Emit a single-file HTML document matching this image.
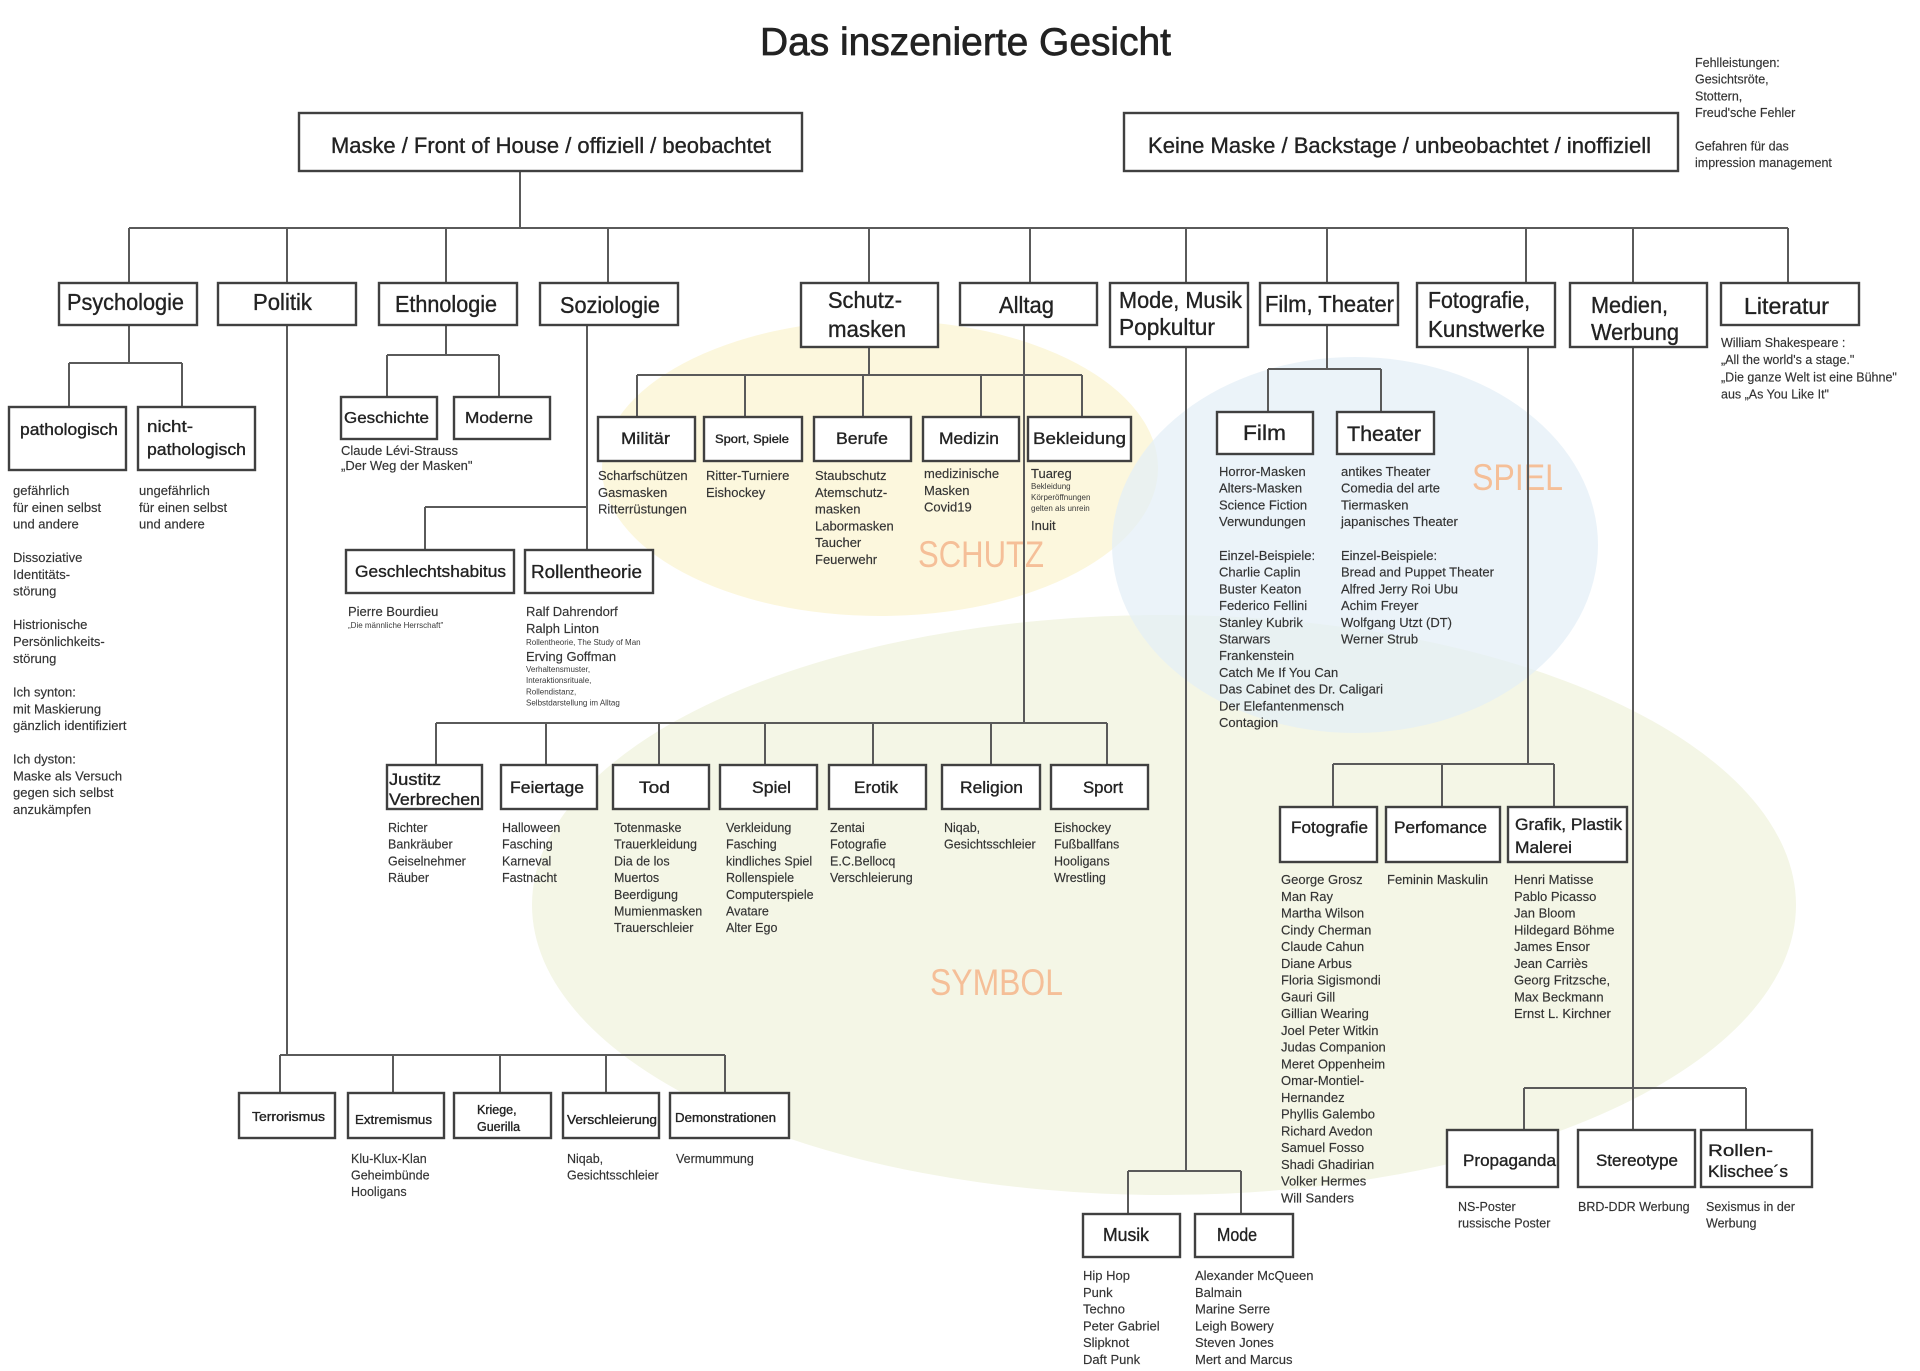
<!DOCTYPE html>
<html><head><meta charset="utf-8">
<style>
html,body{margin:0;padding:0;background:#fff;}
svg{display:block;}
text{font-family:"Liberation Sans",sans-serif;fill:#222;}
.lab text{stroke:#222;stroke-width:0.35;}
.n{font-size:13px;fill:#333;stroke:#333;stroke-width:0.15;}
.s{font-size:12.5px;fill:#333;stroke:#333;stroke-width:0.15;}
.t{font-size:8px;fill:#3a3a3a;}
.b{fill:#fff;stroke:#404040;stroke-width:2.4;}
.l{stroke:#5a5a5a;stroke-width:2;fill:none;}
.big{font-size:37px;fill:#f5bf98;}
</style></head>
<body>
<svg width="1920" height="1371" viewBox="0 0 1920 1371" xmlns="http://www.w3.org/2000/svg">
<rect width="1920" height="1371" fill="#fff"/>
<!-- background ellipses -->
<ellipse cx="1164" cy="905" rx="632" ry="290" fill="#f4f6e6"/>
<ellipse cx="880" cy="468" rx="278" ry="148" fill="#fcf7dd"/>
<ellipse cx="1355" cy="545" rx="243" ry="188" fill="#e3eff6" fill-opacity="0.72"/>

<text class="big" x="918" y="567" textLength="126" lengthAdjust="spacingAndGlyphs">SCHUTZ</text>
<text class="big" x="1472" y="490" textLength="91" lengthAdjust="spacingAndGlyphs">SPIEL</text>
<text class="big" x="930" y="995" textLength="133" lengthAdjust="spacingAndGlyphs">SYMBOL</text>

<!-- title -->
<text x="760" y="55" font-size="39" textLength="411" lengthAdjust="spacingAndGlyphs" stroke="#222" stroke-width="0.7">Das inszenierte Gesicht</text>

<!-- connectors -->
<g class="l">
<path d="M520 171V228M129 228H1788"/>
<path d="M129 228V283M287 228V283M446 228V283M608 228V283M869 228V283M1030 228V283M1186 228V283M1327 228V283M1526 228V283M1633 228V283M1788 228V283"/>
<path d="M129 325V363M69 363H182M69 363V407M182 363V407"/>
<path d="M446 325V355M387 355H499M387 355V397M499 355V397"/>
<path d="M587 325V550M425 507H587M425 507V550"/>
<path d="M869 347V375M637 375H1082M637 375V417M745 375V417M863 375V417M981 375V417M1082 375V417"/>
<path d="M1024 325V723M436 723H1107M436 723V765M546 723V765M659 723V765M765 723V765M873 723V765M991 723V765M1107 723V765"/>
<path d="M1327 325V369M1268 369H1381M1268 369V412M1381 369V412"/>
<path d="M1528 347V764M1333 764H1554M1333 764V807M1442 764V807M1554 764V807"/>
<path d="M1633 347V1088M1524 1088H1746M1524 1088V1130M1633 1088V1130M1746 1088V1130"/>
<path d="M1186 347V1171M1128 1171H1241M1128 1171V1214M1241 1171V1214"/>
<path d="M287 325V1055M280 1055H725M280 1055V1093M393 1055V1093M500 1055V1093M606 1055V1093M725 1055V1093"/>
</g>

<!-- boxes -->
<g>
<rect class="b" x="299" y="113" width="503" height="58"/>
<rect class="b" x="1124" y="113" width="554" height="58"/>

<rect class="b" x="59" y="283" width="138" height="42"/>
<rect class="b" x="218" y="283" width="138" height="42"/>
<rect class="b" x="379" y="283" width="138" height="42"/>
<rect class="b" x="540" y="283" width="138" height="42"/>
<rect class="b" x="801" y="283" width="137" height="64"/>
<rect class="b" x="960" y="283" width="137" height="42"/>
<rect class="b" x="1110" y="283" width="138" height="64"/>
<rect class="b" x="1260" y="283" width="138" height="42"/>
<rect class="b" x="1417" y="283" width="138" height="64"/>
<rect class="b" x="1570" y="283" width="137" height="64"/>
<rect class="b" x="1721" y="283" width="138" height="42"/>

<rect class="b" x="9" y="407" width="117" height="63"/>
<rect class="b" x="138" y="407" width="117" height="63"/>

<rect class="b" x="341" y="397" width="96" height="42"/>
<rect class="b" x="454" y="397" width="96" height="42"/>

<rect class="b" x="346" y="550" width="168" height="43"/>
<rect class="b" x="525" y="550" width="128" height="43"/>

<rect class="b" x="598" y="417" width="97" height="44"/>
<rect class="b" x="704" y="417" width="98" height="44"/>
<rect class="b" x="814" y="417" width="97" height="44"/>
<rect class="b" x="923" y="417" width="96" height="44"/>
<rect class="b" x="1028" y="417" width="103" height="44"/>

<rect class="b" x="1217" y="412" width="96" height="42"/>
<rect class="b" x="1337" y="412" width="97" height="42"/>

<rect class="b" x="387" y="765" width="95" height="44"/>
<rect class="b" x="501" y="765" width="96" height="44"/>
<rect class="b" x="613" y="765" width="96" height="44"/>
<rect class="b" x="720" y="765" width="97" height="44"/>
<rect class="b" x="829" y="765" width="97" height="44"/>
<rect class="b" x="942" y="765" width="98" height="44"/>
<rect class="b" x="1051" y="765" width="97" height="44"/>

<rect class="b" x="1280" y="807" width="97" height="55"/>
<rect class="b" x="1386" y="807" width="114" height="55"/>
<rect class="b" x="1508" y="807" width="119" height="55"/>

<rect class="b" x="1447" y="1130" width="111" height="57"/>
<rect class="b" x="1578" y="1130" width="117" height="57"/>
<rect class="b" x="1701" y="1130" width="111" height="57"/>

<rect class="b" x="1083" y="1214" width="97" height="43"/>
<rect class="b" x="1195" y="1214" width="98" height="43"/>

<rect class="b" x="239" y="1093" width="96" height="45"/>
<rect class="b" x="348" y="1093" width="96" height="45"/>
<rect class="b" x="454" y="1093" width="97" height="45"/>
<rect class="b" x="563" y="1093" width="96" height="45"/>
<rect class="b" x="670" y="1093" width="119" height="45"/>
</g>

<!-- box labels -->
<g class="lab">
<text x="331" y="153" font-size="22" textLength="440" lengthAdjust="spacingAndGlyphs">Maske / Front of House / offiziell / beobachtet</text>
<text x="1148" y="153" font-size="22" textLength="503" lengthAdjust="spacingAndGlyphs">Keine Maske / Backstage / unbeobachtet / inoffiziell</text>

<text x="67" y="310" font-size="23" textLength="117" lengthAdjust="spacingAndGlyphs">Psychologie</text>
<text x="253" y="310" font-size="23" textLength="59" lengthAdjust="spacingAndGlyphs">Politik</text>
<text x="395" y="312" font-size="23" textLength="102" lengthAdjust="spacingAndGlyphs">Ethnologie</text>
<text x="560" y="313" font-size="23" textLength="100" lengthAdjust="spacingAndGlyphs">Soziologie</text>
<text x="828" y="308" font-size="23" textLength="74" lengthAdjust="spacingAndGlyphs">Schutz-</text>
<text x="828" y="337" font-size="23" textLength="78" lengthAdjust="spacingAndGlyphs">masken</text>
<text x="999" y="313" font-size="23" textLength="55" lengthAdjust="spacingAndGlyphs">Alltag</text>
<text x="1119" y="308" font-size="23" textLength="123" lengthAdjust="spacingAndGlyphs">Mode, Musik</text>
<text x="1119" y="335" font-size="23" textLength="96" lengthAdjust="spacingAndGlyphs">Popkultur</text>
<text x="1265" y="312" font-size="23" textLength="129" lengthAdjust="spacingAndGlyphs">Film, Theater</text>
<text x="1428" y="308" font-size="23" textLength="102" lengthAdjust="spacingAndGlyphs">Fotografie,</text>
<text x="1428" y="337" font-size="23" textLength="117" lengthAdjust="spacingAndGlyphs">Kunstwerke</text>
<text x="1591" y="313" font-size="23" textLength="77" lengthAdjust="spacingAndGlyphs">Medien,</text>
<text x="1591" y="340" font-size="23" textLength="88" lengthAdjust="spacingAndGlyphs">Werbung</text>
<text x="1744" y="314" font-size="23" textLength="85" lengthAdjust="spacingAndGlyphs">Literatur</text>

<text x="20" y="435" font-size="17" textLength="98" lengthAdjust="spacingAndGlyphs">pathologisch</text>
<text x="147" y="432" font-size="17" textLength="46" lengthAdjust="spacingAndGlyphs">nicht-</text>
<text x="147" y="455" font-size="17" textLength="99" lengthAdjust="spacingAndGlyphs">pathologisch</text>

<text x="344" y="423" font-size="16" textLength="85" lengthAdjust="spacingAndGlyphs">Geschichte</text>
<text x="465" y="423" font-size="16" textLength="68" lengthAdjust="spacingAndGlyphs">Moderne</text>

<text x="621" y="444" font-size="17" textLength="49" lengthAdjust="spacingAndGlyphs">Militär</text>
<text x="715" y="443" font-size="12" textLength="74" lengthAdjust="spacingAndGlyphs">Sport, Spiele</text>
<text x="836" y="444" font-size="17" textLength="52" lengthAdjust="spacingAndGlyphs">Berufe</text>
<text x="939" y="444" font-size="17" textLength="60" lengthAdjust="spacingAndGlyphs">Medizin</text>
<text x="1033" y="444" font-size="17" textLength="93" lengthAdjust="spacingAndGlyphs">Bekleidung</text>

<text x="355" y="577" font-size="17" textLength="151" lengthAdjust="spacingAndGlyphs">Geschlechtshabitus</text>
<text x="531" y="578" font-size="18" textLength="111" lengthAdjust="spacingAndGlyphs">Rollentheorie</text>

<text x="1243" y="440" font-size="21" textLength="43" lengthAdjust="spacingAndGlyphs">Film</text>
<text x="1347" y="441" font-size="21" textLength="74" lengthAdjust="spacingAndGlyphs">Theater</text>

<text x="389" y="785" font-size="17" textLength="52" lengthAdjust="spacingAndGlyphs">Justitz</text>
<text x="389" y="805" font-size="17" textLength="91" lengthAdjust="spacingAndGlyphs">Verbrechen</text>
<text x="510" y="793" font-size="17" textLength="74" lengthAdjust="spacingAndGlyphs">Feiertage</text>
<text x="639" y="793" font-size="17" textLength="31" lengthAdjust="spacingAndGlyphs">Tod</text>
<text x="752" y="793" font-size="17" textLength="39" lengthAdjust="spacingAndGlyphs">Spiel</text>
<text x="854" y="793" font-size="17" textLength="44" lengthAdjust="spacingAndGlyphs">Erotik</text>
<text x="960" y="793" font-size="17" textLength="63" lengthAdjust="spacingAndGlyphs">Religion</text>
<text x="1083" y="793" font-size="17" textLength="40" lengthAdjust="spacingAndGlyphs">Sport</text>

<text x="1291" y="833" font-size="17" textLength="77" lengthAdjust="spacingAndGlyphs">Fotografie</text>
<text x="1394" y="833" font-size="17" textLength="93" lengthAdjust="spacingAndGlyphs">Perfomance</text>
<text x="1515" y="830" font-size="17" textLength="107" lengthAdjust="spacingAndGlyphs">Grafik, Plastik</text>
<text x="1515" y="853" font-size="17" textLength="57" lengthAdjust="spacingAndGlyphs">Malerei</text>

<text x="1463" y="1166" font-size="17" textLength="93" lengthAdjust="spacingAndGlyphs">Propaganda</text>
<text x="1596" y="1166" font-size="17" textLength="82" lengthAdjust="spacingAndGlyphs">Stereotype</text>
<text x="1708" y="1156" font-size="17" textLength="65" lengthAdjust="spacingAndGlyphs">Rollen-</text>
<text x="1708" y="1177" font-size="17" textLength="80" lengthAdjust="spacingAndGlyphs">Klischee´s</text>

<text x="1103" y="1241" font-size="18" textLength="46" lengthAdjust="spacingAndGlyphs">Musik</text>
<text x="1217" y="1241" font-size="18" textLength="40" lengthAdjust="spacingAndGlyphs">Mode</text>

<text x="252" y="1121" font-size="12.5" textLength="73" lengthAdjust="spacingAndGlyphs" stroke-width="0.2">Terrorismus</text>
<text x="355" y="1124" font-size="12.5" textLength="77" lengthAdjust="spacingAndGlyphs" stroke-width="0.2">Extremismus</text>
<text x="477" y="1114" font-size="12.5" stroke-width="0.2">Kriege,</text>
<text x="477" y="1131" font-size="12.5" stroke-width="0.2">Guerilla</text>
<text x="567" y="1124" font-size="12.5" textLength="90" lengthAdjust="spacingAndGlyphs" stroke-width="0.2">Verschleierung</text>
<text x="675" y="1122" font-size="12.5" textLength="101" lengthAdjust="spacingAndGlyphs" stroke-width="0.2">Demonstrationen</text>
</g>

<!-- notes -->
<text class="s" x="1695" y="67">Fehlleistungen:<tspan x="1695" dy="16.7">Gesichtsröte,</tspan><tspan x="1695" dy="16.7">Stottern,</tspan><tspan x="1695" dy="16.7">Freud'sche Fehler</tspan><tspan x="1695" dy="33.4">Gefahren für das</tspan><tspan x="1695" dy="16.7">impression management</tspan></text>

<text class="s" x="1721" y="347" font-size="12">William Shakespeare :<tspan x="1721" dy="17.2">„All the world's a stage."</tspan><tspan x="1721" dy="17.2">„Die ganze Welt ist eine Bühne"</tspan><tspan x="1721" dy="17.2">aus „As You Like It"</tspan></text>

<text class="n" x="13" y="495">gefährlich<tspan x="13" dy="16.8">für einen selbst</tspan><tspan x="13" dy="16.8">und andere</tspan><tspan x="13" dy="33.5">Dissoziative</tspan><tspan x="13" dy="16.8">Identitäts-</tspan><tspan x="13" dy="16.8">störung</tspan><tspan x="13" dy="33.5">Histrionische</tspan><tspan x="13" dy="16.8">Persönlichkeits-</tspan><tspan x="13" dy="16.8">störung</tspan><tspan x="13" dy="33.7">Ich synton:</tspan><tspan x="13" dy="16.8">mit Maskierung</tspan><tspan x="13" dy="16.8">gänzlich identifiziert</tspan><tspan x="13" dy="33.5">Ich dyston:</tspan><tspan x="13" dy="16.8">Maske als Versuch</tspan><tspan x="13" dy="16.8">gegen sich selbst</tspan><tspan x="13" dy="16.8">anzukämpfen</tspan></text>
<text class="n" x="139" y="495">ungefährlich<tspan x="139" dy="16.8">für einen selbst</tspan><tspan x="139" dy="16.8">und andere</tspan></text>

<text class="n" x="341" y="455" font-size="10.5">Claude Lévi-Strauss<tspan x="341" dy="15">„Der Weg der Masken"</tspan></text>

<text class="n" x="348" y="616">Pierre Bourdieu</text>
<text class="t" x="348" y="628">„Die männliche Herrschaft"</text>
<text class="n" x="526" y="616">Ralf Dahrendorf</text>
<text class="n" x="526" y="633">Ralph Linton</text>
<text class="t" x="526" y="645">Rollentheorie, The Study of Man</text>
<text class="n" x="526" y="661">Erving Goffman</text>
<text class="t" x="526" y="672">Verhaltensmuster,<tspan x="526" dy="11.2">Interaktionsrituale,</tspan><tspan x="526" dy="11.2">Rollendistanz,</tspan><tspan x="526" dy="11.2">Selbstdarstellung im Alltag</tspan></text>

<text class="n" x="598" y="480">Scharfschützen<tspan x="598" dy="16.8">Gasmasken</tspan><tspan x="598" dy="16.8">Ritterrüstungen</tspan></text>
<text class="n" x="706" y="480">Ritter-Turniere<tspan x="706" dy="16.8">Eishockey</tspan></text>
<text class="n" x="815" y="480">Staubschutz<tspan x="815" dy="16.8">Atemschutz-</tspan><tspan x="815" dy="16.8">masken</tspan><tspan x="815" dy="16.8">Labormasken</tspan><tspan x="815" dy="16.8">Taucher</tspan><tspan x="815" dy="16.8">Feuerwehr</tspan></text>
<text class="n" x="924" y="478">medizinische<tspan x="924" dy="16.8">Masken</tspan><tspan x="924" dy="16.8">Covid19</tspan></text>
<text class="n" x="1031" y="478">Tuareg</text>
<text class="t" x="1031" y="489" font-size="7">Bekleidung<tspan x="1031" dy="11">Körperöffnungen</tspan><tspan x="1031" dy="11">gelten als unrein</tspan></text>
<text class="n" x="1031" y="530">Inuit</text>

<text class="n" x="1219" y="476">Horror-Masken<tspan x="1219" dy="16.7">Alters-Masken</tspan><tspan x="1219" dy="16.7">Science Fiction</tspan><tspan x="1219" dy="16.7">Verwundungen</tspan><tspan x="1219" dy="33.9">Einzel-Beispiele:</tspan><tspan x="1219" dy="16.7">Charlie Caplin</tspan><tspan x="1219" dy="16.7">Buster Keaton</tspan><tspan x="1219" dy="16.7">Federico Fellini</tspan><tspan x="1219" dy="16.7">Stanley Kubrik</tspan><tspan x="1219" dy="16.7">Starwars</tspan><tspan x="1219" dy="16.7">Frankenstein</tspan><tspan x="1219" dy="16.7">Catch Me If You Can</tspan><tspan x="1219" dy="16.7">Das Cabinet des Dr. Caligari</tspan><tspan x="1219" dy="16.7">Der Elefantenmensch</tspan><tspan x="1219" dy="16.7">Contagion</tspan></text>
<text class="n" x="1341" y="476">antikes Theater<tspan x="1341" dy="16.7">Comedia del arte</tspan><tspan x="1341" dy="16.7">Tiermasken</tspan><tspan x="1341" dy="16.7">japanisches Theater</tspan><tspan x="1341" dy="33.9">Einzel-Beispiele:</tspan><tspan x="1341" dy="16.7">Bread and Puppet Theater</tspan><tspan x="1341" dy="16.7">Alfred Jerry Roi Ubu</tspan><tspan x="1341" dy="16.7">Achim Freyer</tspan><tspan x="1341" dy="16.7">Wolfgang Utzt (DT)</tspan><tspan x="1341" dy="16.7">Werner Strub</tspan></text>

<text class="s" x="388" y="832">Richter<tspan x="388" dy="16.7">Bankräuber</tspan><tspan x="388" dy="16.7">Geiselnehmer</tspan><tspan x="388" dy="16.7">Räuber</tspan></text>
<text class="s" x="502" y="832">Halloween<tspan x="502" dy="16.7">Fasching</tspan><tspan x="502" dy="16.7">Karneval</tspan><tspan x="502" dy="16.7">Fastnacht</tspan></text>
<text class="s" x="614" y="832">Totenmaske<tspan x="614" dy="16.7">Trauerkleidung</tspan><tspan x="614" dy="16.7">Dia de los</tspan><tspan x="614" dy="16.7">Muertos</tspan><tspan x="614" dy="16.7">Beerdigung</tspan><tspan x="614" dy="16.7">Mumienmasken</tspan><tspan x="614" dy="16.7">Trauerschleier</tspan></text>
<text class="s" x="726" y="832">Verkleidung<tspan x="726" dy="16.7">Fasching</tspan><tspan x="726" dy="16.7">kindliches Spiel</tspan><tspan x="726" dy="16.7">Rollenspiele</tspan><tspan x="726" dy="16.7">Computerspiele</tspan><tspan x="726" dy="16.7">Avatare</tspan><tspan x="726" dy="16.7">Alter Ego</tspan></text>
<text class="s" x="830" y="832">Zentai<tspan x="830" dy="16.7">Fotografie</tspan><tspan x="830" dy="16.7">E.C.Bellocq</tspan><tspan x="830" dy="16.7">Verschleierung</tspan></text>
<text class="s" x="944" y="832">Niqab,<tspan x="944" dy="16.7">Gesichtsschleier</tspan></text>
<text class="s" x="1054" y="832">Eishockey<tspan x="1054" dy="16.7">Fußballfans</tspan><tspan x="1054" dy="16.7">Hooligans</tspan><tspan x="1054" dy="16.7">Wrestling</tspan></text>

<text class="n" x="1281" y="884">George Grosz<tspan x="1281" dy="16.75">Man Ray</tspan><tspan x="1281" dy="16.75">Martha Wilson</tspan><tspan x="1281" dy="16.75">Cindy Cherman</tspan><tspan x="1281" dy="16.75">Claude Cahun</tspan><tspan x="1281" dy="16.75">Diane Arbus</tspan><tspan x="1281" dy="16.75">Floria Sigismondi</tspan><tspan x="1281" dy="16.75">Gauri Gill</tspan><tspan x="1281" dy="16.75">Gillian Wearing</tspan><tspan x="1281" dy="16.75">Joel Peter Witkin</tspan><tspan x="1281" dy="16.75">Judas Companion</tspan><tspan x="1281" dy="16.75">Meret Oppenheim</tspan><tspan x="1281" dy="16.75">Omar-Montiel-</tspan><tspan x="1281" dy="16.75">Hernandez</tspan><tspan x="1281" dy="16.75">Phyllis Galembo</tspan><tspan x="1281" dy="16.75">Richard Avedon</tspan><tspan x="1281" dy="16.75">Samuel Fosso</tspan><tspan x="1281" dy="16.75">Shadi Ghadirian</tspan><tspan x="1281" dy="16.75">Volker Hermes</tspan><tspan x="1281" dy="16.75">Will Sanders</tspan></text>
<text class="n" x="1387" y="884">Feminin Maskulin</text>
<text class="n" x="1514" y="884">Henri Matisse<tspan x="1514" dy="16.75">Pablo Picasso</tspan><tspan x="1514" dy="16.75">Jan Bloom</tspan><tspan x="1514" dy="16.75">Hildegard Böhme</tspan><tspan x="1514" dy="16.75">James Ensor</tspan><tspan x="1514" dy="16.75">Jean Carriès</tspan><tspan x="1514" dy="16.75">Georg Fritzsche,</tspan><tspan x="1514" dy="16.75">Max Beckmann</tspan><tspan x="1514" dy="16.75">Ernst L. Kirchner</tspan></text>

<text class="s" x="351" y="1163">Klu-Klux-Klan<tspan x="351" dy="16.5">Geheimbünde</tspan><tspan x="351" dy="16.5">Hooligans</tspan></text>
<text class="s" x="567" y="1163">Niqab,<tspan x="567" dy="16.5">Gesichtsschleier</tspan></text>
<text class="s" x="676" y="1163">Vermummung</text>

<text class="n" x="1083" y="1280">Hip Hop<tspan x="1083" dy="16.8">Punk</tspan><tspan x="1083" dy="16.8">Techno</tspan><tspan x="1083" dy="16.8">Peter Gabriel</tspan><tspan x="1083" dy="16.8">Slipknot</tspan><tspan x="1083" dy="16.8">Daft Punk</tspan></text>
<text class="n" x="1195" y="1280">Alexander McQueen<tspan x="1195" dy="16.8">Balmain</tspan><tspan x="1195" dy="16.8">Marine Serre</tspan><tspan x="1195" dy="16.8">Leigh Bowery</tspan><tspan x="1195" dy="16.8">Steven Jones</tspan><tspan x="1195" dy="16.8">Mert and Marcus</tspan></text>

<text class="s" x="1458" y="1211">NS-Poster<tspan x="1458" dy="16.5">russische Poster</tspan></text>
<text class="s" x="1578" y="1211">BRD-DDR Werbung</text>
<text class="s" x="1706" y="1211">Sexismus in der<tspan x="1706" dy="16.5">Werbung</tspan></text>
</svg>
</body></html>
